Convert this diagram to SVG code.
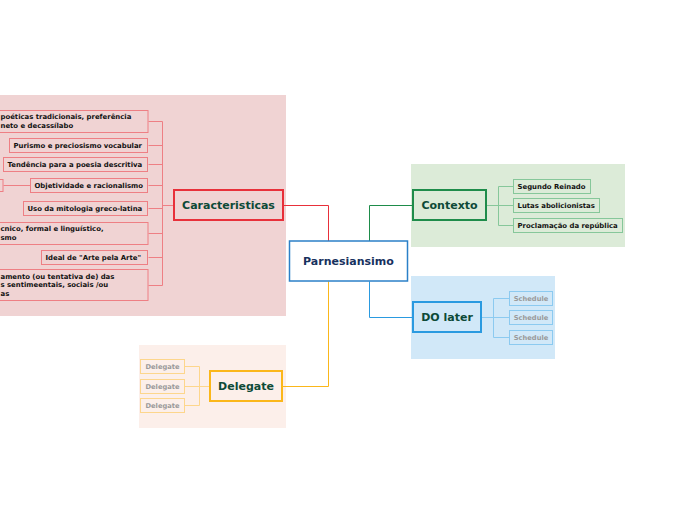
<svg xmlns="http://www.w3.org/2000/svg" width="696" height="520" viewBox="0 0 696 520">
<style>
text{font-family:"DejaVu Sans",Verdana,sans-serif;font-weight:bold}
.main{font-size:11px;fill:#0d4a37;text-anchor:middle;dominant-baseline:central}
.sm{font-size:6.9px;fill:#111;dominant-baseline:central}
.ph{font-size:6.7px;fill:#9a9a9a;text-anchor:middle;dominant-baseline:central}
.cr{fill:#f0d3d3;stroke:#ee7f84;stroke-width:1}
.cg{fill:#dcebd8;stroke:#86c79a;stroke-width:1}
.cb{fill:#d1e8f8;stroke:#8ccaf0;stroke-width:1}
.co{fill:#fcefea;stroke:#fdd68c;stroke-width:1}
.ln{fill:none;stroke-width:1}
</style>
<rect width="696" height="520" fill="#fff"/>
<rect x="0" y="95" width="286" height="221" fill="#f0d3d3"/>
<rect x="411" y="164" width="214" height="83" fill="#dcebd8"/>
<rect x="411" y="276" width="144" height="83" fill="#d1e8f8"/>
<rect x="139" y="345" width="147" height="83" fill="#fcefea"/>
<g id="connectors" transform="translate(0.5,0.5)">
<path class="ln" stroke="#e8303a" d="M328,241V205H283"/>
<path class="ln" stroke="#1e8c4a" d="M369,241V205H413"/>
<path class="ln" stroke="#2a9ae0" d="M369,281V317H413"/>
<path class="ln" stroke="#fbb71a" d="M328,281V386H282"/>
<path class="ln" stroke="#ee7f84" d="M174,205H162M162,121V285M162,121H148M162,145H148M162,164H148M162,185H148M162,208H148M162,233H148M162,257H148M162,285H148M30,185H3"/>
<path class="ln" stroke="#86c79a" d="M486,205H498M498,186V225M498,186H513M498,205H513M498,225H513"/>
<path class="ln" stroke="#8ccaf0" d="M481,317H493M493,298V337M493,298H509M493,317H509M493,337H509"/>
<path class="ln" stroke="#fdd68c" d="M210,386H199M199,366V405M199,366H184M199,386H184M199,405H184"/>
</g>
<g id="center"><rect x="289.5" y="241" width="118" height="40" fill="#fff" stroke="#2b80c8" stroke-width="1.5"/><text class="main" x="348.5" y="261" style="fill:#17315e">Parnesiansimo</text></g>
<g id="caracteristicas"><rect x="174" y="190" width="109" height="30" fill="#f0d3d3" stroke="#e8303a" stroke-width="2"/><text class="main" x="228.5" y="205">Caracteristicas</text></g>
<g id="contexto"><rect x="413" y="190" width="73" height="30" fill="#dcebd8" stroke="#1e8c4a" stroke-width="2"/><text class="main" x="449.5" y="205">Contexto</text></g>
<g id="dolater"><rect x="413" y="302" width="68" height="30" fill="#d1e8f8" stroke="#2a9ae0" stroke-width="2"/><text class="main" x="447" y="317">DO later</text></g>
<g id="delegate"><rect x="210" y="371" width="72" height="30" fill="#fcefea" stroke="#fbb71a" stroke-width="2"/><text class="main" x="246" y="386">Delegate</text></g>
<g id="c1"><rect class="cr" x="-60" y="110.5" width="208" height="22"/><text class="sm" x="0.5" y="117">poéticas tradicionais, preferência</text><text class="sm" x="0.5" y="126">neto e decassílabo</text></g>
<g id="c2"><rect class="cr" x="9.5" y="138.5" width="138" height="14"/><text class="sm" x="13.5" y="145.5">Purismo e preciosismo vocabular</text></g>
<g id="c3"><rect class="cr" x="3.5" y="157.5" width="144" height="14"/><text class="sm" x="7.5" y="164.5">Tendência para a poesia descritiva</text></g>
<g id="c4"><rect class="cr" x="30.5" y="178.5" width="117" height="14"/><text class="sm" x="34.5" y="185.5">Objetividade e racionalismo</text></g>
<g id="c4a"><rect class="cr" x="-20" y="179.5" width="23" height="12"/></g>
<g id="c5"><rect class="cr" x="23.5" y="201.5" width="124" height="14"/><text class="sm" x="27.5" y="208.5">Uso da mitologia greco-latina</text></g>
<g id="c6"><rect class="cr" x="-60" y="222.5" width="208" height="22"/><text class="sm" x="0.5" y="229">cnico, formal e linguístico,</text><text class="sm" x="0.5" y="238">smo</text></g>
<g id="c7"><rect class="cr" x="41.5" y="250.5" width="106" height="14"/><text class="sm" x="45.5" y="257.5">Ideal de "Arte pela Arte"</text></g>
<g id="c8"><rect class="cr" x="-60" y="269.5" width="208" height="31"/><text class="sm" x="0.5" y="276.5">amento (ou tentativa de) das</text><text class="sm" x="0.5" y="285">s sentimeentais, sociais /ou</text><text class="sm" x="0.5" y="293.5">as</text></g>
<g id="g1"><rect class="cg" x="513.5" y="179.5" width="77" height="14"/><text class="sm" x="517.5" y="186.5">Segundo Reinado</text></g>
<g id="g2"><rect class="cg" x="513.5" y="198.5" width="86" height="14"/><text class="sm" x="517.5" y="205.5">Lutas abolicionistas</text></g>
<g id="g3"><rect class="cg" x="513.5" y="218.5" width="109" height="14"/><text class="sm" x="517.5" y="225.5">Proclamação da república</text></g>
<g id="b1"><rect class="cb" x="509.5" y="291.5" width="43" height="14"/><text class="ph" x="531" y="298.5">Schedule</text></g>
<g id="b2"><rect class="cb" x="509.5" y="310.5" width="43" height="14"/><text class="ph" x="531" y="317.5">Schedule</text></g>
<g id="b3"><rect class="cb" x="509.5" y="330.5" width="43" height="14"/><text class="ph" x="531" y="337.5">Schedule</text></g>
<g id="o1"><rect class="co" x="140.5" y="359.5" width="44" height="14"/><text class="ph" x="162.5" y="366.5">Delegate</text></g>
<g id="o2"><rect class="co" x="140.5" y="379.5" width="44" height="14"/><text class="ph" x="162.5" y="386.5">Delegate</text></g>
<g id="o3"><rect class="co" x="140.5" y="398.5" width="44" height="14"/><text class="ph" x="162.5" y="405.5">Delegate</text></g>
</svg>
